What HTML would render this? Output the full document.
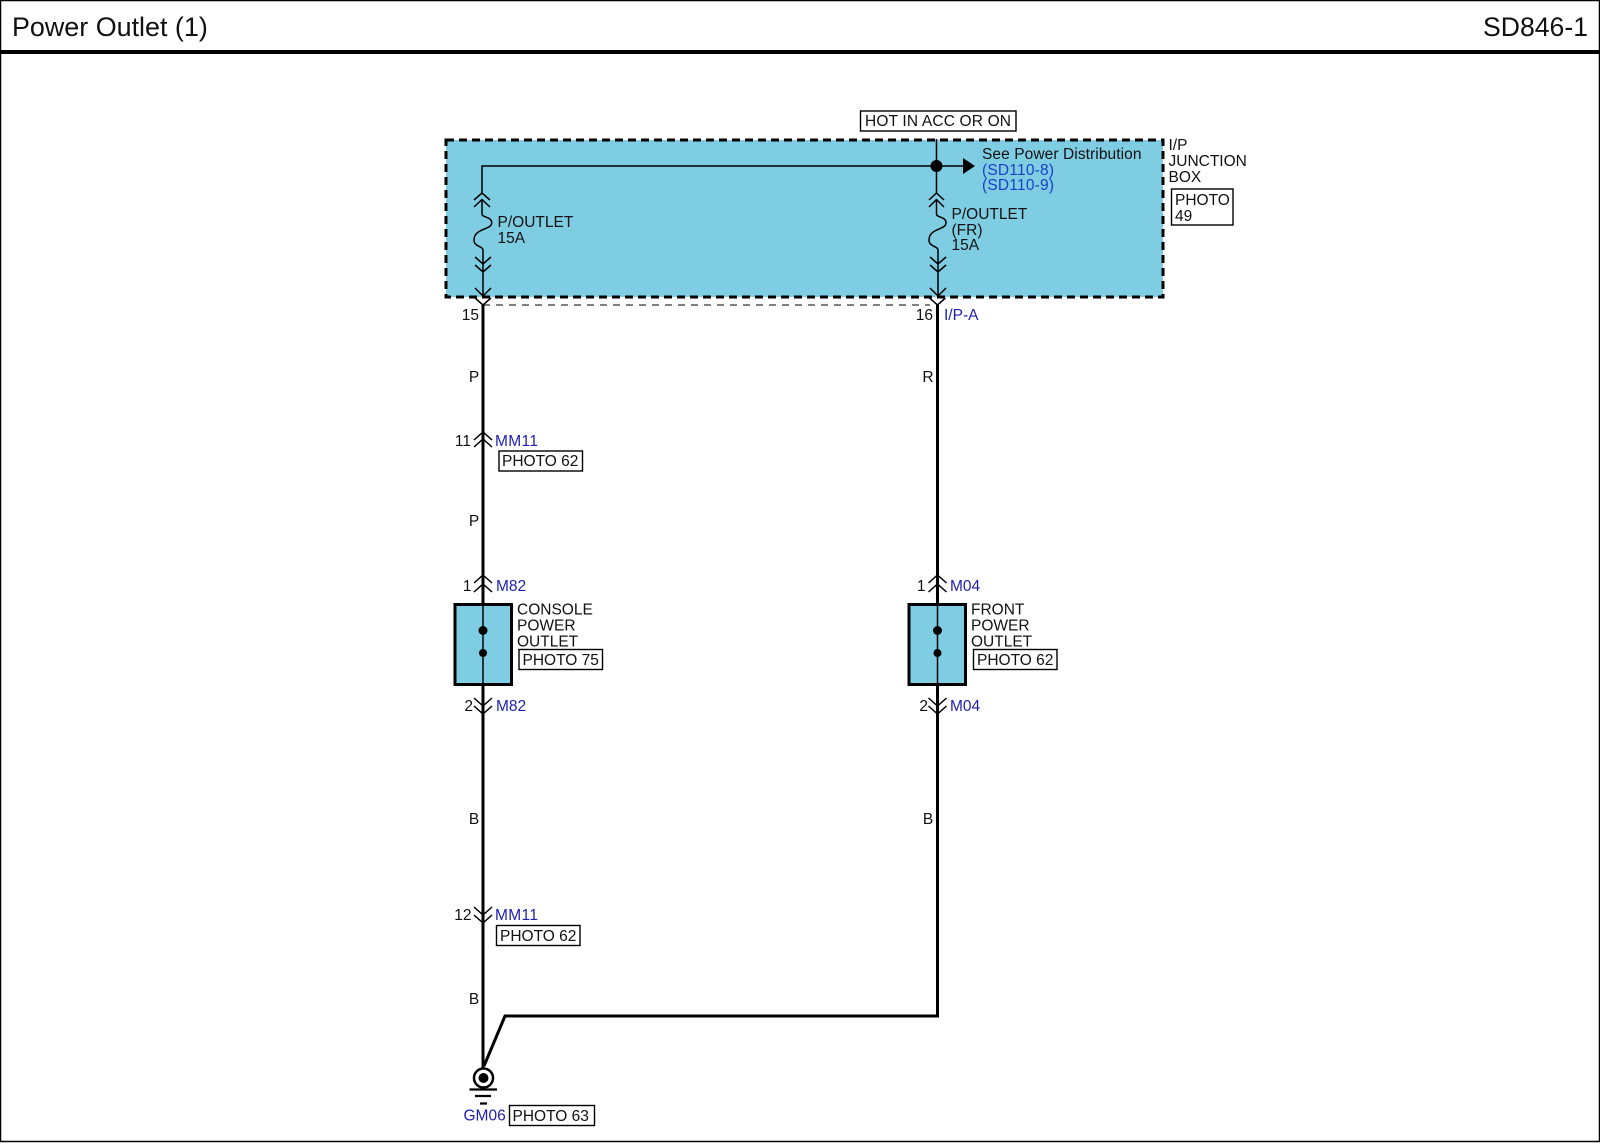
<!DOCTYPE html>
<html><head><meta charset="utf-8"><style>
html,body{margin:0;padding:0;background:#fff}
svg{display:block}
text{font-family:"Liberation Sans",Arial,sans-serif;font-size:15.5px;fill:#111}
.b{fill:#2020b0}.c{fill:#1a40c8}
.m{text-anchor:middle}.e{text-anchor:end}
.t{font-size:26.6px}
.w{stroke:#000;stroke-width:3;fill:none}
.n{stroke:#000;stroke-width:1.5;fill:none}
.x{stroke:#000;stroke-width:1.4;fill:#fff}
</style></head><body>
<svg width="1600" height="1143" viewBox="0 0 1600 1143" xmlns="http://www.w3.org/2000/svg">
<rect x="0.5" y="0.5" width="1599" height="1141" fill="#fff" stroke="#000" stroke-width="1.5"/>
<rect x="0" y="50" width="1600" height="4" fill="#000"/>
<text class="t" x="12" y="36" style="font-size:26.9px">Power Outlet (1)</text>
<text class="t e" x="1588" y="36">SD846-1</text>

<rect x="446" y="140" width="717" height="157" fill="#7fcde3" stroke="#000" stroke-width="3" stroke-dasharray="8 5"/>
<path d="M483 305H930" fill="none" stroke="#000" stroke-width="1" stroke-dasharray="7 6"/>

<rect x="860.5" y="111" width="155.5" height="20" class="x"/>
<text x="865" y="126" textLength="146">HOT IN ACC OR ON</text>

<text x="1168.5" y="150">I/P</text><text x="1168.5" y="166">JUNCTION</text><text x="1168.5" y="182">BOX</text>
<rect x="1171.5" y="189" width="61.5" height="36" class="x"/>
<text x="1175" y="205">PHOTO</text><text x="1175" y="221">49</text>

<!-- inner circuit -->
<path class="n" d="M936.5 139V193M482 193V166H965"/>
<circle cx="936.5" cy="166" r="6" fill="#000"/>
<path d="M963 158L975 166L963 174Z" fill="#000"/>
<text x="982" y="159" textLength="159.500">See Power Distribution</text>
<text class="c" x="982" y="175" textLength="72">(SD110-8)</text><text class="c" x="982" y="190" textLength="72">(SD110-9)</text>

<!-- left fuse -->
<path class="n" d="M474 200L482 193L490 200M474 207L482 199.500L490 207M482 199V214C482 218 491.700 216 491.700 223C491.700 230 474 228 474 240C474 247 483 246 483 250V296M475 257L483 264L491 257M475 265L483 272L491 265M475 288L483 296L491 288"/>
<text x="497.500" y="227">P/OUTLET</text><text x="497.500" y="243">15A</text>
<!-- right fuse -->
<path class="n" d="M929 200L936.500 193L944 200M929 207L936.500 199.500L944 207M936.500 199V214C936.500 218 946 216 946 223C946 230 929 228 929 240C929 247 938 246 938 250V296M930 257L938 264L946 257M930 265L938 272L946 265M930 288L938 296L946 288"/>
<text x="951.500" y="219">P/OUTLET</text><text x="951.500" y="235">(FR)</text><text x="951.500" y="250">15A</text>

<!-- main wires -->
<path class="w" d="M483 305V1068"/>
<path class="w" d="M937.500 305V1016H505L484 1066"/>
<path class="n" d="M475 298L483 305L491 298M929.500 298L937.500 305L945.500 298" stroke-width="1.800"/>
<text class="e" x="479" y="320">15</text>
<text class="e" x="933" y="320">16</text>
<text class="b" x="944" y="320">I/P-A</text>
<text class="m" x="474" y="382">P</text>
<text class="m" x="928" y="382">R</text>

<!-- MM11 top -->
<path class="n" d="M474 440L483 432L492 440M474 447L483 439L492 447" stroke-width="1.800"/>
<text class="e" x="471" y="446">11</text>
<text class="b" x="495" y="446" textLength="43">MM11</text>
<rect x="499" y="451" width="83.500" height="20" class="x"/>
<text x="502" y="466">PHOTO 62</text>
<text class="m" x="474" y="526">P</text>

<!-- Console outlet -->
<path class="n" d="M474 583L483 575L492 583M474 592L483 584L492 592" stroke-width="1.800"/>
<text class="e" x="471.500" y="591">1</text><text class="b" x="496" y="591">M82</text>
<rect x="455" y="604.500" width="56.500" height="80" fill="#7fcde3" stroke="#000" stroke-width="3"/>
<path class="n" d="M483 604V685"/>
<circle cx="483" cy="630.500" r="4.500" fill="#000"/><circle cx="483" cy="653" r="4" fill="#000"/>
<text x="517" y="614.500">CONSOLE</text><text x="517" y="630.500">POWER</text><text x="517" y="646.500">OUTLET</text>
<rect x="519" y="649.500" width="83.500" height="20" class="x"/>
<text x="522.500" y="665">PHOTO 75</text>
<path class="n" d="M474 698L483 706L492 698M474 706L483 714L492 706" stroke-width="1.800"/>
<text class="e" x="473" y="711">2</text><text class="b" x="496" y="711">M82</text>

<!-- Front outlet -->
<path class="n" d="M928.500 583L937.500 575L946.500 583M928.500 592L937.500 584L946.500 592" stroke-width="1.800"/>
<text class="e" x="925.500" y="591">1</text><text class="b" x="950" y="591">M04</text>
<rect x="909" y="604.500" width="56.500" height="80" fill="#7fcde3" stroke="#000" stroke-width="3"/>
<path class="n" d="M937.500 604V685"/>
<circle cx="937.500" cy="630.500" r="4.500" fill="#000"/><circle cx="937.500" cy="653" r="4" fill="#000"/>
<text x="971" y="614.500">FRONT</text><text x="971" y="630.500">POWER</text><text x="971" y="646.500">OUTLET</text>
<rect x="973.500" y="649.500" width="83.500" height="20" class="x"/>
<text x="977" y="665">PHOTO 62</text>
<path class="n" d="M928.500 698L937.500 706L946.500 698M928.500 706L937.500 714L946.500 706" stroke-width="1.800"/>
<text class="e" x="928" y="711">2</text><text class="b" x="950" y="711">M04</text>

<text class="m" x="474" y="824">B</text>
<text class="m" x="928" y="824">B</text>

<!-- MM11 bottom -->
<path class="n" d="M474 907L483 915L492 907M474 915L483 923L492 915" stroke-width="1.800"/>
<text class="e" x="471.500" y="920">12</text>
<text class="b" x="495" y="920" textLength="43">MM11</text>
<rect x="496.500" y="925.500" width="83.500" height="20" class="x"/>
<text x="500" y="941">PHOTO 62</text>
<text class="m" x="474" y="1004">B</text>

<!-- Ground -->
<circle cx="483.500" cy="1078" r="9.500" fill="#fff" stroke="#000" stroke-width="2.500"/>
<circle cx="483.500" cy="1078" r="5" fill="#000"/>
<path d="M469.500 1089.500H497M475 1096H491M480 1103.500H487" stroke="#000" stroke-width="2.300" fill="none"/>
<text class="b" x="463.500" y="1120.500">GM06</text>
<rect x="509.500" y="1105.500" width="85" height="20" class="x"/>
<text x="512.500" y="1121">PHOTO 63</text>
</svg>
</body></html>
